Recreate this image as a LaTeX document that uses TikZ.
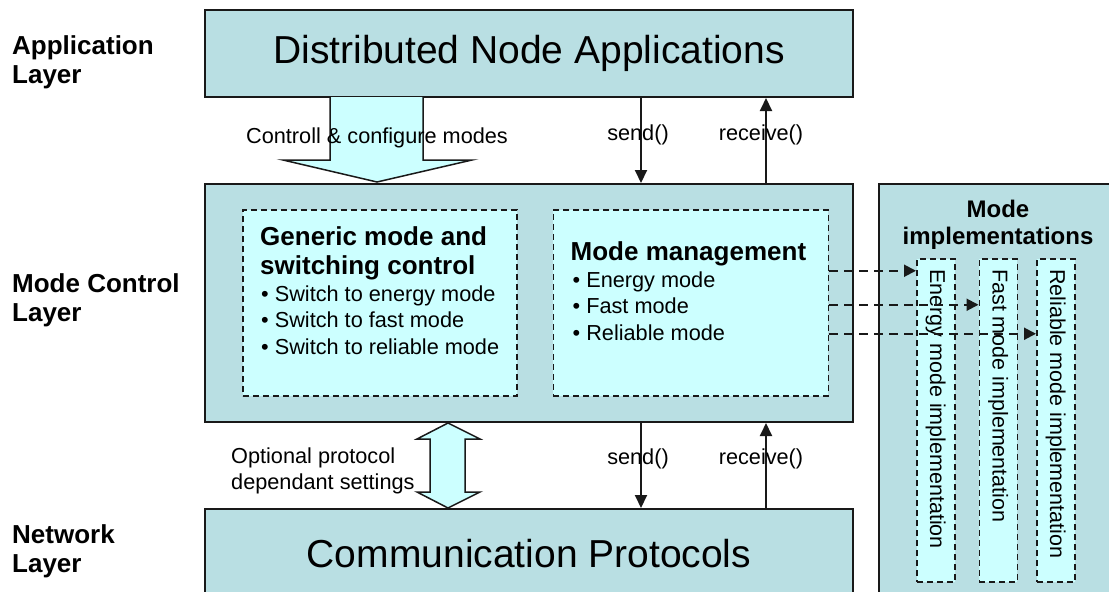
\documentclass[tikz,border=0pt]{standalone}
\usepackage{fontspec}
\setmainfont{Liberation Sans}
\usetikzlibrary{positioning,calc,arrows.meta}
\definecolor{layerfill}{RGB}{185,223,227}
\definecolor{partfill}{RGB}{204,255,255}
\definecolor{edge}{RGB}{25,25,25}

\begin{document}
\begin{tikzpicture}[
  x=1pt, y=-1pt,
  layerbox/.style={rectangle, draw=edge, line width=2pt, fill=layerfill, minimum width=648pt, inner sep=0pt, font=\fontsize{39}{44}\selectfont},
  partbox/.style={rectangle, draw=edge, line width=1.5pt, dash pattern=on 6pt off 4pt, fill=partfill, inner sep=0pt},
  layername/.style={anchor=north west, align=left, inner sep=0pt, font=\fontsize{26}{29.5}\selectfont\bfseries},
  heading/.style={anchor=north west, align=left, inner sep=0pt, font=\fontsize{26}{29}\selectfont\bfseries},
  items/.style={anchor=north west, align=left, inner sep=0pt, font=\fontsize{21.7}{26.5}\selectfont},
  note/.style={anchor=base, inner sep=0pt, font=\fontsize{21.7}{26}\selectfont},
  vlabel/.style={rotate=-90, anchor=west, inner sep=0pt, font=\fontsize{21.5}{24}\selectfont},
  arrow/.style={-{Triangle[width=12pt,length=13pt]}, line width=2pt, draw=edge},
  darrow/.style={-{Triangle[width=12pt,length=12pt]}, line width=2pt, draw=edge, dash pattern=on 9pt off 6pt},
  block/.style={draw=edge, line width=1.5pt, fill=partfill, line join=miter}
]
\useasboundingbox (0,0) rectangle (1109,592);
\clip (0,0) rectangle (1109,592);

% Layers
\node[layerbox, minimum height=87pt] (app) at (529,53.5) {Distributed Node Applications};
\node[layerbox, minimum height=238pt] (ctrl) [below=85pt of app] {};
\node[layerbox, minimum height=90pt] (net) [below=85pt of ctrl] {Communication Protocols};
\node[layerbox, minimum width=250pt, minimum height=420pt, anchor=north west] (impl) at ($(ctrl.north east)+(24,0)$) {};

% Layer names
\node[layername] (appname) at (12,35) {Application\\Layer};
\node[layername] (ctrlname) at (12,273) {Mode Control\\Layer};
\node[layername] (netname) at (12,524) {Network\\Layer};

% Mode control parts
\node[partbox, minimum width=274pt, minimum height=186pt, anchor=north west] (gen) at ($(ctrl.north west)+(38,26)$) {};
\node[partbox, minimum width=275pt, minimum height=186pt] (mgmt) [right=35pt of gen] {};

\node[heading] (genhead) at ($(gen.north west)+(18,17)$) {Generic mode and\\switching control};
\node[items] (genitems) at ($(gen.north west)+(19,76.5)$) {• Switch to energy mode\\• Switch to fast mode\\• Switch to reliable mode};

\node[heading] (mgmthead) at ($(mgmt.north west)+(18,32)$) {Mode management};
\node[items] (mgmtitems) at ($(mgmt.north west)+(20,62.5)$) {• Energy mode\\• Fast mode\\• Reliable mode};

% Mode implementations
\node[anchor=north, align=center, inner sep=0pt, font=\fontsize{24}{27}\selectfont\bfseries] (implhead) at ($(impl.north west)+(120,17)$) {Mode\\implementations};

\node[partbox, minimum width=38pt, minimum height=323pt, anchor=north west] (energy) at ($(impl.north west)+(38,75)$) {};
\node[partbox, minimum width=38pt, minimum height=323pt] (fast) [right=23pt of energy] {};
\node[partbox, minimum width=38pt, minimum height=323pt] (reliable) [right=18pt of fast] {};

\node[vlabel] (energytext) at ($(energy.north)+(0,11)$) {Energy mode implementation};
\node[vlabel] (fasttext) at ($(fast.north)+(0,11)$) {Fast mode implementation};
\node[vlabel] (reliabletext) at ($(reliable.north)+(0,11)$) {Reliable mode implementation};

% Control arrow
\draw[block] (330,97) -- (330,160) -- (283,160) -- (377,182) -- (472,160) -- (423,160) -- (423,97);
\node[note] (ctrlnote) at (377,143) {Controll \& configure modes};

% Settings arrow
\draw[block] (448,423) -- (480,439) -- (465,439) -- (465,492) -- (480,492) -- (448,508)
  -- (417,492) -- (430,492) -- (430,439) -- (417,439) -- cycle;
\node[items] (setnote) at (231,447.5) {Optional protocol\\dependant settings};

% send / receive
\coordinate (sendx) at (641,0);
\coordinate (recvx) at (766,0);
\draw[arrow] (app.south -| sendx) -- (ctrl.north -| sendx);
\draw[arrow] (ctrl.north -| recvx) -- (app.south -| recvx);
\draw[arrow] (ctrl.south -| sendx) -- (net.north -| sendx);
\draw[arrow] (net.north -| recvx) -- (ctrl.south -| recvx);
\node[note] (sendtop) at (638,140) {send()};
\node[note] (recvtop) at (761,140) {receive()};
\node[note] (sendbot) at (638,464) {send()};
\node[note] (recvbot) at (761,464) {receive()};

% Mode links
\coordinate (m1) at ($(mgmt.east)+(0,-32)$);
\coordinate (m2) at ($(mgmt.east)+(0,2)$);
\coordinate (m3) at ($(mgmt.east)+(0,31)$);
\draw[darrow] (m1) -- (m1 -| energy.west);
\draw[darrow] (m2) -- (m2 -| fast.west);
\draw[darrow] (m3) -- (m3 -| reliable.west);

\end{tikzpicture}
\end{document}
